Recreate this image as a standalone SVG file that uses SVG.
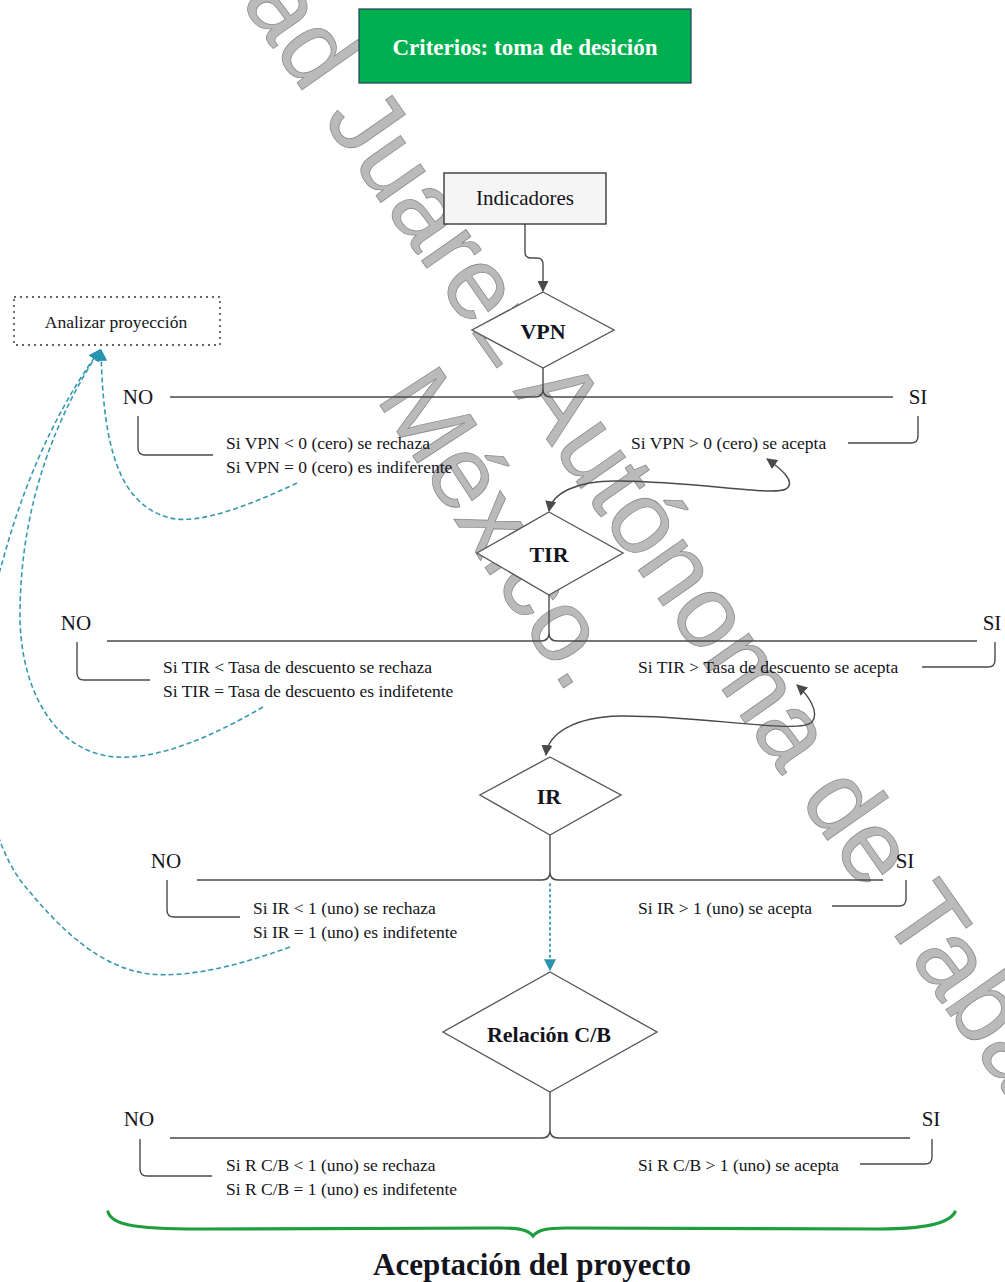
<svg xmlns="http://www.w3.org/2000/svg" width="1005" height="1282" viewBox="0 0 1005 1282">
<style>
.wm{font-family:"Liberation Sans",Arial,sans-serif;font-size:103px;fill:#bababa;stroke:#8c8c8c;stroke-width:0.8}
.t{font-family:"Liberation Serif","Times New Roman",serif;fill:#141420}
.s{font-size:17.5px}
.yn{font-size:21px;text-anchor:middle}
.b{font-weight:bold;text-anchor:middle;font-size:22px}
.ln{fill:none;stroke:#4a4a4a;stroke-width:1.4}
.dia{fill:#ffffff;stroke:#595959;stroke-width:1.4}
.teal{fill:none;stroke:#3798b2;stroke-width:1.6;stroke-dasharray:5 3}
.tdot{fill:none;stroke:#3798b2;stroke-width:1.8;stroke-dasharray:1.5 4;stroke-linecap:round}
</style>
<defs>
<marker id="ag" viewBox="0 0 10 10" refX="9" refY="5" markerWidth="11" markerHeight="11" markerUnits="userSpaceOnUse" orient="auto-start-reverse"><path d="M0,0 L10,5 L0,10 z" fill="#4a4a4a"/></marker>
<marker id="at" viewBox="0 0 10 10" refX="9" refY="5" markerWidth="12" markerHeight="12" markerUnits="userSpaceOnUse" orient="auto"><path d="M0,0 L10,5 L0,10 z" fill="#2a93b0"/></marker>
</defs>
<rect width="1005" height="1282" fill="#ffffff"/>
<g id="watermark">
<text class="wm" transform="translate(-6,-350) rotate(55)">Universidad Juárez Autónoma de Tabasco.</text>
<text class="wm" text-anchor="middle" transform="translate(472,547) rotate(57)">México.</text>
</g>
<g id="connectors">
<path class="ln" d="M525 224 L525 252 Q525 258 531 258 L537 258 Q543 258 543 264 L543 291" marker-end="url(#ag)"/>
<path class="ln" d="M543 368 L543 389 Q543 397 535 397 L170 397 M543 389 Q543 397 551 397 L893 397"/>
<path class="ln" d="M138 416 L138 448 Q138 455 145 455 L213 455"/>
<path class="ln" d="M918 416 L918 436 Q918 443 911 443 L848 443"/>
<path class="ln" d="M767 459 C780 468 797 482 786 489 C772 496 700 482 620 481 C575 480 552 494 549 511" marker-start="url(#ag)" marker-end="url(#ag)"/>
<path class="ln" d="M549 595 L549 633 Q549 641 541 641 L107 641 M549 633 Q549 641 557 641 L977 641"/>
<path class="ln" d="M77 642 L77 673 Q77 680 84 680 L150 680"/>
<path class="ln" d="M995 642 L995 660 Q995 667 988 667 L922 667"/>
<path class="ln" d="M797 685 C808 695 820 712 812 722 C800 735 700 715 620 716 C575 717 548 733 546 755" marker-start="url(#ag)" marker-end="url(#ag)"/>
<path class="ln" d="M550 835 L550 872 Q550 880 542 880 L197 880 M550 872 Q550 880 558 880 L883 880"/>
<path class="ln" d="M167 880 L167 910 Q167 917 174 917 L240 917"/>
<path class="ln" d="M906 880 L906 899 Q906 906 899 906 L832 906"/>
<path class="tdot" d="M550 884 L550 970" marker-end="url(#at)"/>
<path class="ln" d="M550 1092 L550 1130 Q550 1138 542 1138 L170 1138 M550 1130 Q550 1138 558 1138 L910 1138"/>
<path class="ln" d="M140 1139 L140 1169 Q140 1176 147 1176 L212 1176"/>
<path class="ln" d="M932 1139 L932 1157 Q932 1164 925 1164 L860 1164"/>
<path class="teal" d="M297 483 C250 505 200 525 170 518 C120 505 103 450 101 350" marker-end="url(#at)"/>
<path class="teal" d="M263 707 C215 735 160 760 115 757 C55 752 20 690 20 615 C20 500 60 410 100 350" marker-end="url(#at)"/>
<path class="teal" d="M290 947 C240 965 190 978 150 974 C100 968 60 930 20 880 C-35 800 -25 650 3 560 C30 460 70 390 100 350" marker-end="url(#at)"/>
<path fill="none" stroke="#1f9e3f" stroke-width="3.2" stroke-linecap="round" d="M108 1212 C112 1224 130 1229 200 1229 L500 1228 C520 1228 528 1230 533 1236 C538 1230 546 1228 566 1228 L880 1229 C930 1229 950 1222 955 1212"/>
</g>
<g id="criterios">
<rect x="359" y="9" width="332" height="74" fill="#00b050" stroke="#233a5a" stroke-width="1.2"/>
<text class="t b" x="525" y="55" style="fill:#ffffff;font-size:23px">Criterios: toma de desición</text>
</g>
<g id="indicadores">
<rect x="444" y="173" width="162" height="51" fill="#f5f5f5" stroke="#3a3a3a" stroke-width="1.4"/>
<text class="t" x="525" y="205" text-anchor="middle" font-size="21">Indicadores</text>
</g>
<g id="analizar">
<rect x="14" y="297" width="206" height="48" fill="none" stroke="#333" stroke-width="1.4" stroke-dasharray="2 4"/>
<text class="t" x="116" y="328" text-anchor="middle" font-size="17.5">Analizar proyección</text>
</g>
<g id="vpn">
<polygon class="dia" points="543,292 614,330 543,368 472,330"/>
<text class="t b" x="543" y="339">VPN</text>
</g>
<g id="vpn-no">
<text class="t yn" x="138" y="404">NO</text>
<text class="t s" x="226" y="449">Si VPN &lt; 0 (cero) se rechaza</text>
<text class="t s" x="226" y="473">Si VPN = 0 (cero) es indiferente</text>
</g>
<g id="vpn-si">
<text class="t yn" x="918" y="404">SI</text>
<text class="t s" x="631" y="449">Si VPN &gt; 0 (cero) se acepta</text>
</g>
<g id="tir">
<polygon class="dia" points="549,512 623,553 549,595 477,553"/>
<text class="t b" x="549" y="562">TIR</text>
</g>
<g id="tir-no">
<text class="t yn" x="76" y="630">NO</text>
<text class="t s" x="163" y="673">Si TIR &lt; Tasa de descuento se rechaza</text>
<text class="t s" x="163" y="697">Si TIR = Tasa de descuento es indifetente</text>
</g>
<g id="tir-si">
<text class="t yn" x="992" y="630">SI</text>
<text class="t s" x="638" y="673">Si TIR &gt; Tasa de descuento se acepta</text>
</g>
<g id="ir">
<polygon class="dia" points="550,757 621,795 550,835 480,795"/>
<text class="t b" x="549" y="804">IR</text>
</g>
<g id="ir-no">
<text class="t yn" x="166" y="868">NO</text>
<text class="t s" x="253" y="914">Si IR &lt; 1 (uno) se rechaza</text>
<text class="t s" x="253" y="938">Si IR = 1 (uno) es indifetente</text>
</g>
<g id="ir-si">
<text class="t yn" x="905" y="868">SI</text>
<text class="t s" x="638" y="914">Si IR &gt; 1 (uno) se acepta</text>
</g>
<g id="rcb">
<polygon class="dia" points="550,972 657,1032 550,1092 443,1032"/>
<text class="t b" x="549" y="1042">Relación C/B</text>
</g>
<g id="rcb-no">
<text class="t yn" x="139" y="1126">NO</text>
<text class="t s" x="226" y="1171">Si R C/B &lt; 1 (uno) se rechaza</text>
<text class="t s" x="226" y="1195">Si R C/B = 1 (uno) es indifetente</text>
</g>
<g id="rcb-si">
<text class="t yn" x="931" y="1126">SI</text>
<text class="t s" x="638" y="1171">Si R C/B &gt; 1 (uno) se acepta</text>
</g>
<g id="aceptacion">
<text class="t" x="532" y="1275" text-anchor="middle" font-weight="bold" font-size="31">Aceptación del proyecto</text>
</g>
</svg>
